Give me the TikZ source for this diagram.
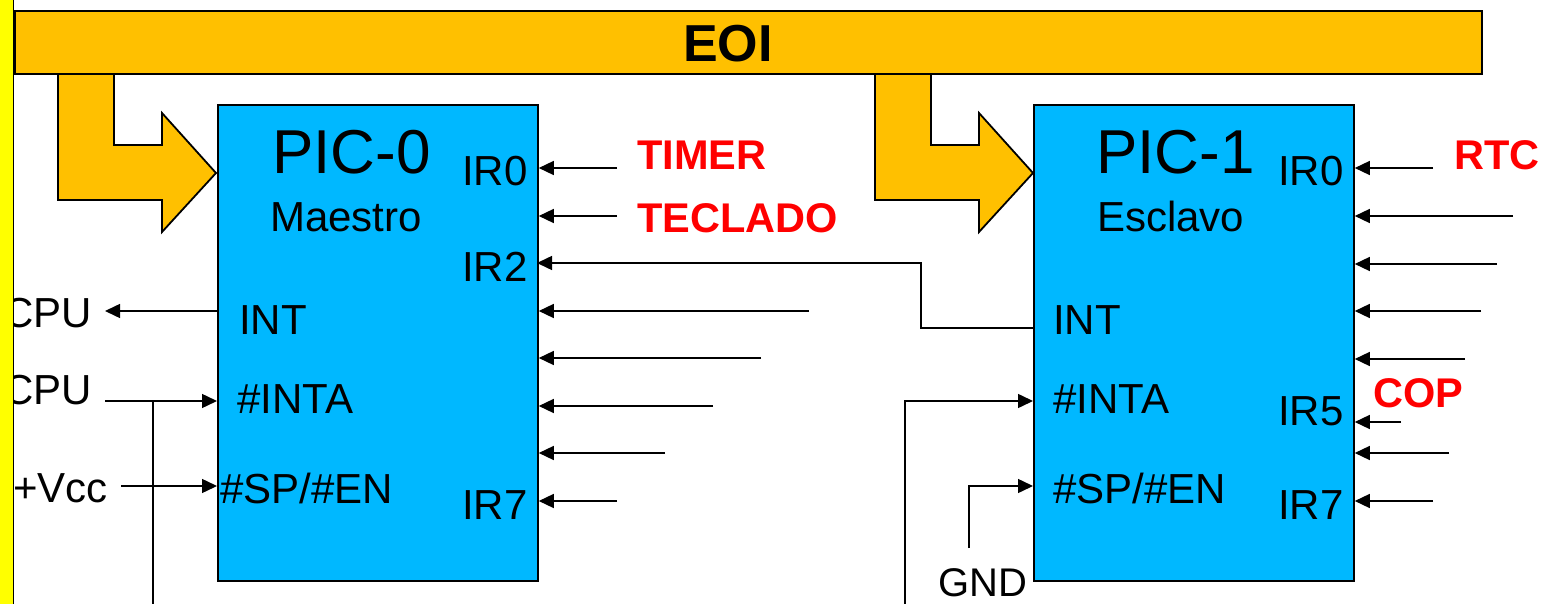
\documentclass[tikz,border=0pt]{standalone}
\usepackage{fontspec}
\setmainfont{Liberation Sans}
\usetikzlibrary{arrows.meta}
\definecolor{eoiorange}{RGB}{255,192,0}
\definecolor{picblue}{RGB}{0,184,255}
\definecolor{labred}{RGB}{255,0,0}
\definecolor{stripyellow}{RGB}{255,255,0}
\begin{document}
\begin{tikzpicture}[x=1pt,y=-1pt,
  arr/.style={-{Triangle[length=15pt,width=14pt]}, line width=1.5pt},
  wire/.style={line width=1.5pt},
  picbox/.style={draw, fill=picblue, line width=1.8pt, minimum width=320pt, minimum height=476pt, inner sep=0pt, anchor=north west},
  lbl/.style={anchor=base west, inner sep=0pt, font=\fontsize{42}{42}\selectfont},
  smalllbl/.style={anchor=base west, inner sep=0pt, font=\fontsize{40}{40}\selectfont},
  title/.style={anchor=base west, inner sep=0pt, font=\fontsize{62}{62}\selectfont},
  redlbl/.style={anchor=base west, inner sep=0pt, text=labred, font=\bfseries\fontsize{41.5}{41.5}\selectfont},
  lshape/.style={draw, fill=eoiorange, line width=1.8pt, line join=miter}
]
\useasboundingbox (0,0) rectangle (1548,604);

% L-shaped arrows from EOI bar
\filldraw[lshape] (58,73) -- (114,73) -- (114,145) -- (162,145) -- (162,113) -- (216,173) -- (162,232) -- (162,200) -- (58,200) -- cycle;
\filldraw[lshape] (875,73) -- (931,73) -- (931,145) -- (979,145) -- (979,113) -- (1033,173) -- (979,232) -- (979,200) -- (875,200) -- cycle;

% EOI bar
\node[draw, fill=eoiorange, line width=1.8pt, anchor=north west, minimum width=1467pt, minimum height=63pt, inner sep=0pt] (eoi) at (14,10) {};
\node[anchor=base, inner sep=0pt, font=\bfseries\fontsize{52}{52}\selectfont] (eoitxt) at (728,62) {EOI};

% PIC boxes
\node[picbox] (pic0) at (217,104) {};
\node[picbox] (pic1) at (1033,104) {};

% PIC-0 labels
\node[title] (t0) at (272,174) {PIC-0};
\node[lbl] (m0) at (270,232) {Maestro};
\node[lbl] (p0ir0) at (462,186) {IR0};
\node[lbl] (p0ir2) at (462,281) {IR2};
\node[lbl] (p0ir7) at (462,519) {IR7};
\node[lbl] (p0int) at (239,334) {INT};
\node[lbl] (p0inta) at (237,413) {\#INTA};
\node[lbl] (p0sp) at (220,503) {\#SP/\#EN};

% PIC-1 labels
\node[title] (t1) at (1096,174) {PIC-1};
\node[lbl] (m1) at (1097,232) {Esclavo};
\node[lbl] (p1ir0) at (1278,186) {IR0};
\node[lbl] (p1ir5) at (1278,425) {IR5};
\node[lbl] (p1ir7) at (1278,519) {IR7};
\node[lbl] (p1int) at (1053,334) {INT};
\node[lbl] (p1inta) at (1053,413) {\#INTA};
\node[lbl] (p1sp) at (1053,503) {\#SP/\#EN};

% red labels
\node[redlbl] (timer) at (637,170) {TIMER};
\node[redlbl] (teclado) at (637,233) {TECLADO};
\node[redlbl] (rtc) at (1454,170) {RTC};
\node[redlbl] (cop) at (1373,407) {COP};

% left side labels
\node[lbl] (cpu1) at (3,327) {CPU};
\node[lbl] (cpu2) at (3,404) {CPU};
\node[lbl] (vcc) at (13,502) {+Vcc};
\node[smalllbl] (gnd) at (938,596) {GND};

% PIC-0 right-side inputs
\foreach \y/\x [count=\i] in {168/617, 216/617, 311/809, 358/761, 406/713, 453/665, 501/617} {
  \coordinate (a\i) at (\x,\y);
  \draw[arr] (a\i) -- (a\i -| pic0.east);
}
% PIC-1 right-side inputs
\foreach \y/\x [count=\i] in {168/1433, 216/1513, 264/1497, 311/1481, 359/1465, 422/1401, 453/1449, 501/1433} {
  \coordinate (b\i) at (\x,\y);
  \draw[arr] (b\i) -- (b\i -| pic1.east);
}

% cascade: PIC-1 INT -> PIC-0 IR2
\coordinate (int1) at (1033,328);
\coordinate (ir2) at (537,263);
\coordinate (bend) at (921,0);
\draw[arr] (int1) -- (bend |- int1) -- (bend |- ir2) -- (ir2);

% PIC-0 left side
\coordinate (cpuout) at (105,311);
\draw[arr] (cpuout -| pic0.west) -- (cpuout);
\coordinate (cpuin) at (105,401);
\draw[arr] (cpuin) -- (cpuin -| pic0.west);
\coordinate (vccin) at (121,486);
\draw[arr] (vccin) -- (vccin -| pic0.west);
\coordinate (inta0j) at (153,401);
\coordinate (inta0b) at (153,606);
\draw[wire] (inta0j) -- (inta0b);

% PIC-1 left side
\coordinate (inta1b) at (905,606);
\coordinate (inta1c) at (905,401);
\draw[arr] (inta1b) -- (inta1c) -- (inta1c -| pic1.west);
\coordinate (gndb) at (969,548);
\coordinate (gndc) at (969,486);
\draw[arr] (gndb) -- (gndc) -- (gndc -| pic1.west);

% yellow strip at left edge
\fill[stripyellow] (-1,-1) rectangle (13,606);
\draw[line width=1.8pt] (13.5,-1) -- (13.5,606);
\end{tikzpicture}
\end{document}
